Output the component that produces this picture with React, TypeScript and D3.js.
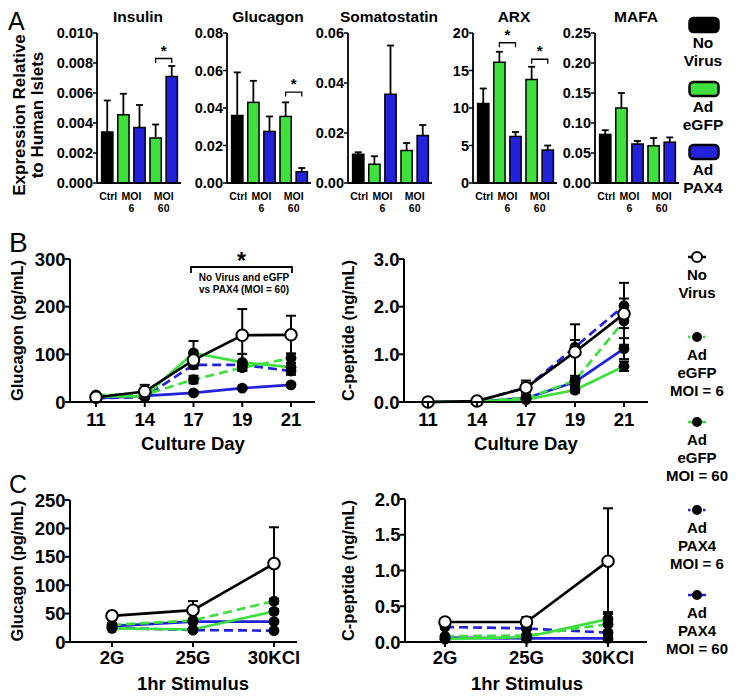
import React from "react";
import * as d3 from "d3";

const FONT = "'Liberation Sans', Arial, Helvetica, sans-serif";
const GREEN = "#3de03d";
const BLUE = "#2222dd";
const BLACK = "#000000";

// ---------- Panel A data ----------
const barKeys = ["noVirus", "eGFP6", "pax6", "eGFP60", "pax60"];
const barFill = [BLACK, GREEN, BLUE, GREEN, BLUE];
const geneNames = ["Insulin", "Glucagon", "Somatostatin", "ARX", "MAFA"];
const insulinMean = [0.0034, 0.00455, 0.0037, 0.003, 0.0071];
const insulinSem = [0.0021, 0.0014, 0.0015, 0.0009, 0.0007];
const glucagonMean = [0.036, 0.043, 0.0275, 0.0355, 0.006];
const glucagonSem = [0.023, 0.0115, 0.008, 0.0075, 0.002];
const somatoMean = [0.0115, 0.0075, 0.0355, 0.013, 0.019];
const somatoSem = [0.0008, 0.0032, 0.0195, 0.003, 0.0042];
const arxMean = [10.6, 16.1, 6.2, 13.8, 4.4];
const arxSem = [2.0, 1.4, 0.6, 1.7, 0.6];
const mafaMean = [0.081, 0.125, 0.065, 0.062, 0.068];
const mafaSem = [0.007, 0.025, 0.005, 0.013, 0.008];
const geneMax = [0.01, 0.08, 0.06, 20, 0.25];
const geneTicks = [
  [0, 0.002, 0.004, 0.006, 0.008, 0.01],
  [0, 0.02, 0.04, 0.06, 0.08],
  [0, 0.02, 0.04, 0.06],
  [0, 5, 10, 15, 20],
  [0, 0.05, 0.1, 0.15, 0.2, 0.25],
];
const geneFmt = [".3f", ".2f", ".2f", "d", ".2f"];
// brackets: [from bar, to bar, level]
const geneBrackets: [number, number, number][][] = [
  [[3, 4, 0.0083]],
  [[3, 4, 0.0485]],
  [],
  [[1, 2, 18.7], [3, 4, 16.5]],
  [],
];
const geneMeans = [insulinMean, glucagonMean, somatoMean, arxMean, mafaMean];
const geneSems = [insulinSem, glucagonSem, somatoSem, arxSem, mafaSem];
const barLegendLabels = [["No", "Virus"], ["Ad", "eGFP"], ["Ad", "PAX4"]];
const barLegendColors = [BLACK, GREEN, BLUE];

// ---------- Panel B / C data ----------
const seriesKeys = ["pax60", "pax6", "eGFP60", "eGFP6", "noVirus"];
const seriesColor: Record<string, string> = { noVirus: BLACK, eGFP6: GREEN, eGFP60: GREEN, pax6: BLUE, pax60: BLUE };
const seriesDashed: Record<string, boolean> = { noVirus: false, eGFP6: true, eGFP60: false, pax6: true, pax60: false };
const dayLabels = ["11", "14", "17", "19", "21"];
const stimLabels = ["2G", "25G", "30KCl"];

const bGlucMean: Record<string, number[]> = {
  noVirus: [10, 22, 88, 140, 141],
  eGFP6: [15, 15, 47, 72, 92],
  eGFP60: [12, 12, 103, 83, 73],
  pax6: [8, 10, 78, 78, 65],
  pax60: [8, 13, 19, 29, 36],
};
const bGlucSem: Record<string, number[]> = {
  noVirus: [3, 14, 12, 55, 40],
  eGFP6: [2, 2, 8, 6, 10],
  eGFP60: [2, 2, 25, 18, 8],
  pax6: [2, 3, 8, 5, 8],
  pax60: [1, 2, 2, 2, 3],
};
const bCpepMean: Record<string, number[]> = {
  noVirus: [0, 0.02, 0.3, 1.05, 1.85],
  eGFP6: [0, 0.02, 0.08, 0.45, 1.7],
  eGFP60: [0, 0.01, 0.05, 0.25, 0.75],
  pax6: [0, 0.02, 0.3, 1.15, 2.02],
  pax60: [0, 0.01, 0.08, 0.42, 1.12],
};
const bCpepSem: Record<string, number[]> = {
  noVirus: [0, 0.01, 0.15, 0.58, 0.65],
  eGFP6: [0, 0.01, 0.03, 0.1, 0.15],
  eGFP60: [0, 0.01, 0.02, 0.05, 0.1],
  pax6: [0, 0.01, 0.1, 0.15, 0.15],
  pax60: [0, 0.01, 0.02, 0.08, 0.22],
};
const cGlucMean: Record<string, number[]> = {
  noVirus: [46, 56, 138],
  eGFP6: [30, 38, 72],
  eGFP60: [24, 22, 54],
  pax6: [25, 21, 20],
  pax60: [28, 36, 36],
};
const cGlucSem: Record<string, number[]> = {
  noVirus: [7, 16, 64],
  eGFP6: [3, 3, 4],
  eGFP60: [2, 2, 4],
  pax6: [2, 2, 2],
  pax60: [3, 3, 3],
};
const cCpepMean: Record<string, number[]> = {
  noVirus: [0.28, 0.28, 1.13],
  eGFP6: [0.08, 0.09, 0.25],
  eGFP60: [0.04, 0.07, 0.32],
  pax6: [0.21, 0.19, 0.13],
  pax60: [0.06, 0.05, 0.05],
};
const cCpepSem: Record<string, number[]> = {
  noVirus: [0.05, 0.07, 0.74],
  eGFP6: [0.02, 0.02, 0.15],
  eGFP60: [0.01, 0.02, 0.1],
  pax6: [0.02, 0.02, 0.03],
  pax60: [0.01, 0.01, 0.02],
};
const bGlucTicks = [0, 100, 200, 300];
const bCpepTicks = [0, 1, 2, 3];
const cGlucTicks = [0, 50, 100, 150, 200, 250];
const cCpepTicks = [0, 0.5, 1, 1.5, 2];
const lineLegend = [
  { key: "noVirus", lines: ["No", "Virus"] },
  { key: "eGFP6", lines: ["Ad", "eGFP", "MOI = 6"] },
  { key: "eGFP60", lines: ["Ad", "eGFP", "MOI = 60"] },
  { key: "pax6", lines: ["Ad", "PAX4", "MOI = 6"] },
  { key: "pax60", lines: ["Ad", "PAX4", "MOI = 60"] },
];

// ---------- layout ----------
const A_TOP = 33;
const A_BOTTOM = 183;
const A_AXIS_X = [97, 227, 348, 473, 595];

function BarPanel({ idx }: { idx: number }) {
  const x0 = A_AXIS_X[idx];
  const y = d3.scaleLinear().domain([0, geneMax[idx]]).range([A_BOTTOM, A_TOP]);
  const x = d3.scaleBand<string>().domain(barKeys).range([x0 + 3, x0 + 82]).paddingInner(0.3).paddingOuter(0.1);
  const bw = x.bandwidth();
  const fmt = d3.format(geneFmt[idx]);
  const means = geneMeans[idx];
  const sems = geneSems[idx];
  const cx = (k: string) => (x(k) as number) + bw / 2;
  const g6 = (cx("eGFP6") + cx("pax6")) / 2;
  const g60 = (cx("eGFP60") + cx("pax60")) / 2;
  return (
    <g>
      <text x={x0 + 41} y={22} textAnchor="middle" fontSize={15.5} fontWeight="bold">{geneNames[idx]}</text>
      {barKeys.map((k, i) => {
        const top = y(means[i] + sems[i]);
        return (
          <g key={k}>
            <line x1={cx(k)} x2={cx(k)} y1={y(means[i])} y2={top} stroke={BLACK} strokeWidth={1.8} />
            <line x1={cx(k) - 3.5} x2={cx(k) + 3.5} y1={top} y2={top} stroke={BLACK} strokeWidth={1.8} />
            <rect x={x(k)} y={y(means[i])} width={bw} height={A_BOTTOM - y(means[i])} fill={barFill[i]} stroke={BLACK} strokeWidth={1.5} />
          </g>
        );
      })}
      {geneBrackets[idx].map(([a, b, lv], j) => {
        const xa = cx(barKeys[a]);
        const xb = cx(barKeys[b]);
        const yy = y(lv);
        return (
          <g key={j}>
            <path d={`M${xa},${yy + 4.5}V${yy}H${xb}V${yy + 4.5}`} fill="none" stroke={BLACK} strokeWidth={1.3} />
            <text x={(xa + xb) / 2} y={yy - 3} textAnchor="middle" fontSize={15} fontWeight="bold">*</text>
          </g>
        );
      })}
      <line x1={x0} x2={x0} y1={A_TOP} y2={A_BOTTOM} stroke={BLACK} strokeWidth={1.8} />
      <line x1={x0} x2={x0 + 84} y1={A_BOTTOM} y2={A_BOTTOM} stroke={BLACK} strokeWidth={1.8} />
      {geneTicks[idx].map((t) => (
        <g key={t}>
          <line x1={x0 - 4} x2={x0} y1={y(t)} y2={y(t)} stroke={BLACK} strokeWidth={1.5} />
          <text x={x0 - 4} y={y(t) + 5} textAnchor="end" fontSize={14.5} fontWeight="bold">{fmt(t)}</text>
        </g>
      ))}
      <text x={cx("noVirus") + 1} y={200} textAnchor="middle" fontSize={10.5} fontWeight="bold">Ctrl</text>
      <text x={g6} y={200} textAnchor="middle" fontSize={10.5} fontWeight="bold">MOI</text>
      <text x={g6} y={212} textAnchor="middle" fontSize={10.5} fontWeight="bold">6</text>
      <text x={g60} y={200} textAnchor="middle" fontSize={10.5} fontWeight="bold">MOI</text>
      <text x={g60} y={212} textAnchor="middle" fontSize={10.5} fontWeight="bold">60</text>
    </g>
  );
}

type LineProps = {
  cats: string[];
  axisX: number;
  xStart: number;
  xEnd: number;
  axisEnd: number;
  yTop: number;
  yBottom: number;
  yMax: number;
  ticks: number[];
  fmt: string;
  means: Record<string, number[]>;
  sems: Record<string, number[]>;
  yLabel: string;
  yLabelX: number;
  xLabel: string;
  xLabelX: number;
  xLabelY: number;
  tickLabelY: number;
};

function LinePanel(p: LineProps) {
  const x = d3.scalePoint<string>().domain(p.cats).range([p.xStart, p.xEnd]);
  const y = d3.scaleLinear().domain([0, p.yMax]).range([p.yBottom, p.yTop]);
  const fmt = d3.format(p.fmt);
  const line = d3
    .line<number>()
    .x((_, i) => x(p.cats[i]) as number)
    .y((d) => y(d));
  return (
    <g>
      {seriesKeys.map((k) => (
        <path key={k} d={line(p.means[k]) as string} fill="none" stroke={seriesColor[k]} strokeWidth={2.7}
          strokeDasharray={seriesDashed[k] ? "9,5" : undefined} />
      ))}
      {seriesKeys.map((k) =>
        p.means[k].map((m, i) => {
          const s = p.sems[k][i];
          if (s <= 0) return null;
          const cx = x(p.cats[i]) as number;
          const lo = y(Math.max(0, m - s));
          const hi = y(m + s);
          return (
            <g key={k + i}>
              <line x1={cx} x2={cx} y1={lo} y2={hi} stroke={BLACK} strokeWidth={2} />
              <line x1={cx - 5} x2={cx + 5} y1={hi} y2={hi} stroke={BLACK} strokeWidth={2} />
              <line x1={cx - 5} x2={cx + 5} y1={lo} y2={lo} stroke={BLACK} strokeWidth={2} />
            </g>
          );
        })
      )}
      {seriesKeys.map((k) =>
        p.means[k].map((m, i) => {
          const cx = x(p.cats[i]) as number;
          return k === "noVirus" ? (
            <circle key={k + i} cx={cx} cy={y(m)} r={5.8} fill="#fff" stroke={BLACK} strokeWidth={2} />
          ) : (
            <circle key={k + i} cx={cx} cy={y(m)} r={5.4} fill={BLACK} />
          );
        })
      )}
      <line x1={p.axisX} x2={p.axisX} y1={p.yTop} y2={p.yBottom} stroke={BLACK} strokeWidth={2} />
      <line x1={p.axisX} x2={p.axisEnd} y1={p.yBottom} y2={p.yBottom} stroke={BLACK} strokeWidth={2} />
      {p.ticks.map((t) => (
        <g key={t}>
          <line x1={p.axisX - 5} x2={p.axisX} y1={y(t)} y2={y(t)} stroke={BLACK} strokeWidth={2} />
          <text x={p.axisX - 4.5} y={y(t) + 6.5} textAnchor="end" fontSize={18.5} fontWeight="bold">{fmt(t)}</text>
        </g>
      ))}
      {p.cats.map((c) => (
        <g key={c}>
          <line x1={x(c)} x2={x(c)} y1={p.yBottom} y2={p.yBottom + 5} stroke={BLACK} strokeWidth={2} />
          <text x={x(c)} y={p.tickLabelY} textAnchor="middle" fontSize={18.5} fontWeight="bold">{c}</text>
        </g>
      ))}
      <text transform={`translate(${p.yLabelX},${(p.yTop + p.yBottom) / 2}) rotate(-90)`} textAnchor="middle" fontSize={16.5} fontWeight="bold">{p.yLabel}</text>
      <text x={p.xLabelX} y={p.xLabelY} textAnchor="middle" fontSize={18.5} fontWeight="bold">{p.xLabel}</text>
    </g>
  );
}

function LegendSymbol({ k, cx, cy }: { k: string; cx: number; cy: number }) {
  return (
    <g>
      <line x1={cx - 9} x2={cx + 9} y1={cy} y2={cy} stroke={seriesColor[k]} strokeWidth={2.5}
        strokeDasharray={seriesDashed[k] ? "2.5,2.5" : undefined} />
      {k === "noVirus" ? (
        <circle cx={cx} cy={cy} r={5} fill="#fff" stroke={BLACK} strokeWidth={2} />
      ) : (
        <circle cx={cx} cy={cy} r={5} fill={BLACK} />
      )}
    </g>
  );
}

export default function App() {
  const legendYs = [257, 337, 422, 510, 595];
  return (
    <svg width={738} height={700} style={{ position: "absolute", left: 0, top: 0, background: "#fff" }} fontFamily={FONT}>
      <rect width={738} height={700} fill="#fff" />
      {/* Panel A */}
      <text x={8} y={30} fontSize={25}>A</text>
      <text transform="translate(25,115) rotate(-90)" textAnchor="middle" fontSize={17} fontWeight="bold">Expression Relative</text>
      <text transform="translate(43,115) rotate(-90)" textAnchor="middle" fontSize={17} fontWeight="bold">to Human Islets</text>
      {geneNames.map((_, i) => (
        <BarPanel key={i} idx={i} />
      ))}
      {barLegendLabels.map((lines, i) => {
        const top = [18, 82, 145][i];
        return (
          <g key={i}>
            <rect x={689.5} y={top} width={29} height={14} rx={4} fill={barLegendColors[i]} stroke={BLACK} strokeWidth={2.5} />
            <text x={703} y={top + 30} textAnchor="middle" fontSize={15.5} fontWeight="bold">{lines[0]}</text>
            <text x={703} y={top + 48} textAnchor="middle" fontSize={15.5} fontWeight="bold">{lines[1]}</text>
          </g>
        );
      })}

      {/* Panel B */}
      <text x={9} y={252} fontSize={28}>B</text>
      <LinePanel cats={dayLabels} axisX={70} xStart={96} xEnd={291} axisEnd={315} yTop={259} yBottom={402}
        yMax={300} ticks={bGlucTicks} fmt="d" means={bGlucMean} sems={bGlucSem}
        yLabel="Glucagon (pg/mL)" yLabelX={23} xLabel="Culture Day" xLabelX={193} xLabelY={450} tickLabelY={426} />
      <LinePanel cats={dayLabels} axisX={404} xStart={428} xEnd={624} axisEnd={648} yTop={259} yBottom={402}
        yMax={3} ticks={bCpepTicks} fmt=".1f" means={bCpepMean} sems={bCpepSem}
        yLabel="C-peptide (ng/mL)" yLabelX={354} xLabel="Culture Day" xLabelX={526} xLabelY={450} tickLabelY={426} />
      <path d="M191,273V267H292V273" fill="none" stroke={BLACK} strokeWidth={1.8} />
      <text x={241.5} y={269} textAnchor="middle" fontSize={23} fontWeight="bold">*</text>
      <text x={244} y={281} textAnchor="middle" fontSize={10} fontWeight="bold">No Virus and eGFP</text>
      <text x={244} y={293} textAnchor="middle" fontSize={10} fontWeight="bold">vs PAX4 (MOI = 60)</text>

      {/* Panel C */}
      <text x={9} y={493} fontSize={25}>C</text>
      <LinePanel cats={stimLabels} axisX={70} xStart={112} xEnd={274} axisEnd={297} yTop={500} yBottom={642}
        yMax={250} ticks={cGlucTicks} fmt="d" means={cGlucMean} sems={cGlucSem}
        yLabel="Glucagon (pg/mL)" yLabelX={23} xLabel="1hr Stimulus" xLabelX={193} xLabelY={690} tickLabelY={664} />
      <LinePanel cats={stimLabels} axisX={405} xStart={445} xEnd={608} axisEnd={647} yTop={499} yBottom={642}
        yMax={2} ticks={cCpepTicks} fmt=".1f" means={cCpepMean} sems={cCpepSem}
        yLabel="C-peptide (ng/mL)" yLabelX={354} xLabel="1hr Stimulus" xLabelX={527} xLabelY={690} tickLabelY={664} />

      {/* Line legend */}
      {lineLegend.map((e, i) => {
        const cy = legendYs[i];
        return (
          <g key={e.key}>
            <LegendSymbol k={e.key} cx={697} cy={cy} />
            {e.lines.map((t, j) => (
              <text key={j} x={697} y={cy + 23 + j * 18} textAnchor="middle" fontSize={15} fontWeight="bold">{t}</text>
            ))}
          </g>
        );
      })}
    </svg>
  );
}
